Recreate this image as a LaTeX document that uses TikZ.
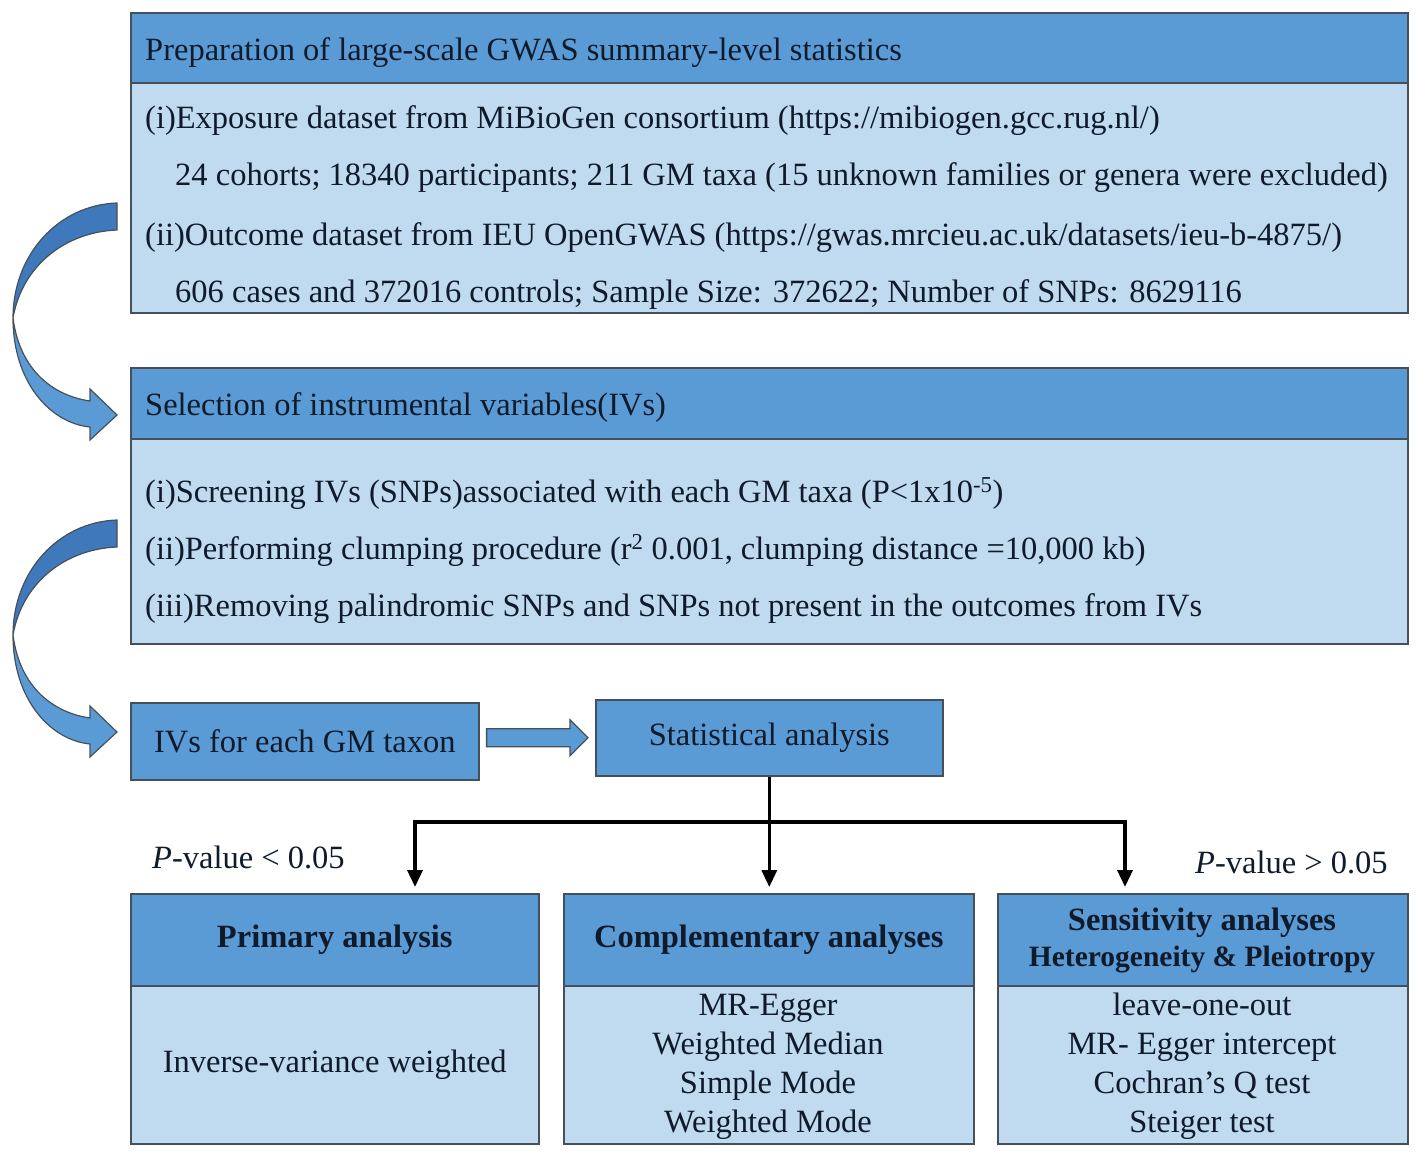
\documentclass[tikz,border=0pt]{standalone}
\usepackage{fontspec}
\setmainfont{Liberation Serif}
\usetikzlibrary{arrows.meta,calc}
\definecolor{hdrblue}{HTML}{5B9BD5}
\definecolor{bodyblue}{HTML}{C0DAF0}
\definecolor{edge}{HTML}{46505C}
\definecolor{ink}{HTML}{0F1A2A}
\definecolor{backblue}{HTML}{3F79BC}
\begin{document}
\begin{tikzpicture}[x=1pt,y=-1pt,
  every node/.style={font=\fontsize{32.5}{38}\selectfont, text=ink},
  panel/.style={draw=edge, line width=1.6pt, inner sep=0pt, anchor=north west},
  hdr/.style={panel, fill=hdrblue},
  bdy/.style={panel, fill=bodyblue},
  txt/.style={anchor=base west, inner sep=0pt},
  ctxt/.style={anchor=base, inner sep=0pt},
  boldtxt/.style={font=\fontsize{32.5}{38}\selectfont\bfseries},
  conn/.style={line width=3.5pt, draw=black},
  tipline/.style={conn, -{Triangle[width=15pt,length=17pt]}, shorten >=6pt},
  blockarrow/.style={draw=edge, line width=1.3pt, fill=hdrblue, line join=miter},
  ribbonback/.style={draw=edge, line width=1.2pt, fill=backblue},
  ribbonfront/.style={draw=edge, line width=1.2pt, fill=hdrblue},
]
\useasboundingbox (0,0) rectangle (1417,1160);

% ---- Box 1
\node[hdr, minimum width=1277, minimum height=70] (h1) at (130,12) {};
\node[bdy, minimum width=1277, minimum height=230] (b1) at (130,82) {};
\node[txt] (t1h) at (145,60) {Preparation of large-scale GWAS summary-level statistics};
\node[txt] (t1a) at (145,128) {(i)Exposure dataset from MiBioGen consortium (https://mibiogen.gcc.rug.nl/)};
\node[txt] (t1b) at (175,185) {24 cohorts; 18340 participants; 211 GM taxa (15 unknown families or genera were excluded)};
\node[txt] (t1c) at (145,245) {(ii)Outcome dataset from IEU OpenGWAS (https://gwas.mrcieu.ac.uk/datasets/ieu-b-4875/)};
\node[txt] (t1d) at (175,302) {606 cases and 372016 controls; Sample Size: 372622; Number of SNPs: 8629116};

% ---- Box 2
\node[hdr, minimum width=1277, minimum height=71] (h2) at (130,367) {};
\node[bdy, minimum width=1277, minimum height=205] (b2) at (130,438) {};
\node[txt] (t2h) at (145,415) {Selection of instrumental variables(IVs)};
\node[txt] (t2a) at (145,502) {(i)Screening IVs (SNPs)associated with each GM taxa (P<1x10\textsuperscript{-5})};
\node[txt] (t2b) at (145,559) {(ii)Performing clumping procedure (r\textsuperscript{2} 0.001, clumping distance =10,000 kb)};
\node[txt] (t2c) at (145,616) {(iii)Removing palindromic SNPs and SNPs not present in the outcomes from IVs};

% ---- Middle row
\node[hdr, minimum width=348, minimum height=77] (ivs) at (130,702) {IVs for each GM taxon};
\node[hdr, minimum width=347, minimum height=76] (stat) at (595,699) {Statistical analysis};
\draw[blockarrow]
  ($(ivs.east |- stat.west)+(7,-9)$) -- ($(stat.west)+(-25,-9)$) -- ($(stat.west)+(-25,-18)$)
  -- ($(stat.west)+(-7,0)$) -- ($(stat.west)+(-25,18)$) -- ($(stat.west)+(-25,9)$)
  -- ($(ivs.east |- stat.west)+(7,9)$) -- cycle;

% ---- Bottom row
\node[hdr, minimum width=408, minimum height=92, boldtxt] (ha) at (130,893) {Primary analysis};
\node[bdy, minimum width=408, minimum height=158] (ba) at (130,985) {Inverse-variance weighted};

\node[hdr, minimum width=410, minimum height=92, boldtxt] (hb) at (563,893) {Complementary analyses};
\node[bdy, minimum width=410, minimum height=158] (bb) at (563,985) {};
\node[ctxt] (b1l) at (768,1015) {MR-Egger};
\node[ctxt] (b2l) at (768,1054) {Weighted Median};
\node[ctxt] (b3l) at (768,1093) {Simple Mode};
\node[ctxt] (b4l) at (768,1132) {Weighted Mode};

\node[hdr, minimum width=410, minimum height=92] (hc) at (997,893) {};
\node[ctxt, boldtxt] (hc1) at (1202,930) {Sensitivity analyses};
\node[ctxt, font=\fontsize{29.5}{34}\selectfont\bfseries] (hc2) at (1202,966) {Heterogeneity \& Pleiotropy};
\node[bdy, minimum width=410, minimum height=158] (bc) at (997,985) {};
\node[ctxt] (c1l) at (1202,1015) {leave-one-out};
\node[ctxt] (c2l) at (1202,1054) {MR- Egger intercept};
\node[ctxt] (c3l) at (1202,1093) {Cochran's Q test};
\node[ctxt] (c4l) at (1202,1132) {Steiger test};

\node[txt] (plow) at (152,868) {\textit{P}-value < 0.05};
\node[txt] (phigh) at (1195,873) {\textit{P}-value > 0.05};

% ---- Connectors
\coordinate (jl) at (415,822);
\coordinate (jr) at (1125,822);
\draw[conn] (stat.south) -- (stat.south |- jl);
\draw[conn, line cap=rect] (jl) -- (jr);
\draw[tipline] (jl) -- (jl |- ha.north);
\draw[tipline] (stat.south) -- (stat.south |- hb.north);
\draw[tipline] (jr) -- (jr |- hc.north);

% ---- Curved ribbon arrows
\foreach \dy in {0,317}{
\begin{scope}[shift={(0,\dy)}]
  \path[ribbonback] (117,203) .. controls (58,205) and (13,255) .. (13,318)
        .. controls (22,266) and (65,232) .. (117,230) -- cycle;
  \path[ribbonfront] (13,318) .. controls (13,382) and (50,423) .. (90,427)
        -- (90,440) -- (117,415) -- (90,389) -- (90,401)
        .. controls (55,396) and (20,372) .. (13,318) -- cycle;
\end{scope}
}
\end{tikzpicture}
\end{document}
